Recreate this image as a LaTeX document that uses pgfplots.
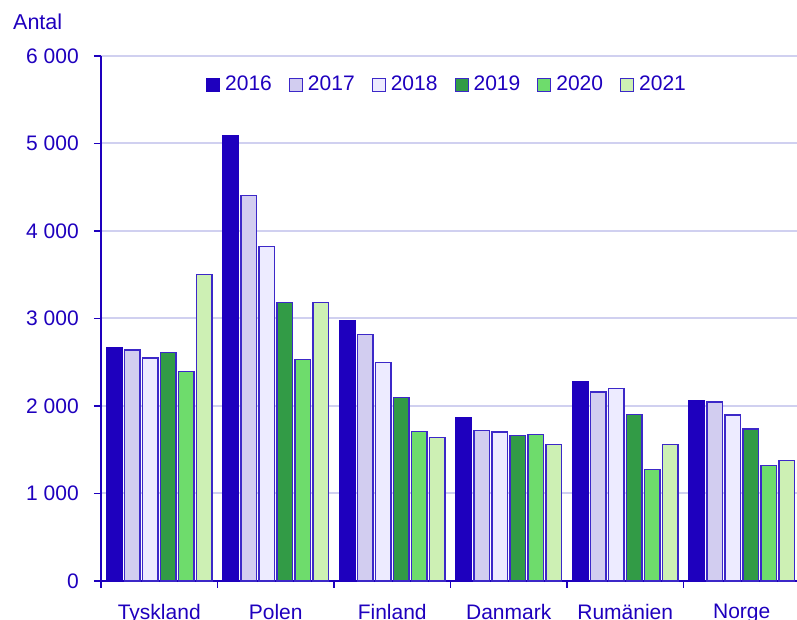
\documentclass[border=0pt]{standalone}
\usepackage{fontspec}
\setmainfont{Liberation Sans}
\usepackage{pgfplots}
\usepackage{pgfplotstable}
\pgfplotsset{compat=1.18}
\definecolor{scbblue}{HTML}{1E00BE}
\definecolor{edge}{HTML}{3C28C8}
\definecolor{c16}{HTML}{1E00BE}
\definecolor{c17}{HTML}{D2CDF0}
\definecolor{c18}{HTML}{EDEBFF}
\definecolor{c19}{HTML}{329B46}
\definecolor{c20}{HTML}{6EDC6C}
\definecolor{c21}{HTML}{CDF0B4}
\definecolor{gridc}{HTML}{D0D0F0}

\pgfplotsset{sqlegend/.style={legend image code/.code={\draw[##1, line width=1.1bp] (0bp,-6.5bp) rectangle (13bp,6.5bp);}}}

% Tyskland, Polen, Finland, Danmark, Rumaenien, Norge
\pgfplotstableread{
i  y16   y17   y18   y19   y20   y21
0  2666  2640  2549  2613  2392  3501
1  5089  4408  3821  3181  2533  3181
2  2975  2819  2499  2095  1706  1638
3  1863  1722  1703  1661  1676  1558
4  2278  2160  2198  1901  1272  1558
5  2065  2046  1897  1737  1318  1375
}\data

\begin{document}
\fontsize{21bp}{25bp}\selectfont
\begin{tikzpicture}
\useasboundingbox (0,0) rectangle (797bp,620bp);
\clip (0,0) rectangle (797bp,620bp);

\node[anchor=base west, text=scbblue, inner sep=0pt, font=\fontsize{21.5bp}{25bp}\selectfont]
  at (13bp,590.5bp) {Antal};

\begin{axis}[
  at={(101bp,39bp)}, anchor=south west,
  width=699bp, height=525bp,
  scale only axis,
  ybar,
  bar width=15.5bp,
  xmin=-0.5, xmax=5.5,
  ymin=0, ymax=6000,
  ytick={0,1000,...,6000},
  scaled y ticks=false,
  /pgf/number format/.cd, 1000 sep={\ }, assume math mode=true, /pgfplots/.cd,
  axis lines=left,
  axis line style={-, draw=scbblue, line width=1.8bp},
  tick align=outside,
  major tick length=7bp,
  tick style={draw=scbblue, line width=1.8bp},
  ymajorgrids,
  grid style={draw=gridc, line width=2bp},
  ticklabel style={text=scbblue, font=\fontsize{21bp}{25bp}\selectfont},
  yticklabel style={inner sep=0pt, xshift=-15bp},
  xtick={-0.5,0.5,...,5.5},
  xticklabels={},
  extra x ticks={0,1,2,3,4,5},
  extra x tick labels={Tyskland,Polen,Finland,Danmark,Rumänien,Norge},
  extra x tick style={major tick length=0pt, grid=none,
    xticklabel style={anchor=north, inner sep=0pt, yshift=-23bp}},
  legend style={at={(0.495,1)}, anchor=north, yshift=-16bp, draw=none, fill=none,
    text=scbblue, font=\fontsize{21bp}{25bp}\selectfont,
    legend columns=-1,
    /tikz/every odd column/.append style={column sep=3bp},
    /tikz/every even column/.append style={column sep=15bp}},
  legend cell align=left,
  clip=false,
]
\addplot[fill=c16, draw=c16, line width=1.1bp, bar shift=-45bp, sqlegend] table[x=i, y=y16] {\data};
\addplot[fill=c17, draw=edge, line width=1.1bp, bar shift=-27bp, sqlegend] table[x=i, y=y17] {\data};
\addplot[fill=c18, draw=edge, line width=1.1bp, bar shift=-9bp, sqlegend] table[x=i, y=y18] {\data};
\addplot[fill=c19, draw=edge, line width=1.1bp, bar shift=9bp, sqlegend] table[x=i, y=y19] {\data};
\addplot[fill=c20, draw=edge, line width=1.1bp, bar shift=27bp, sqlegend] table[x=i, y=y20] {\data};
\addplot[fill=c21, draw=edge, line width=1.1bp, bar shift=45bp, sqlegend] table[x=i, y=y21] {\data};
\legend{2016,2017,2018,2019,2020,2021}
\end{axis}
\end{tikzpicture}
\end{document}
